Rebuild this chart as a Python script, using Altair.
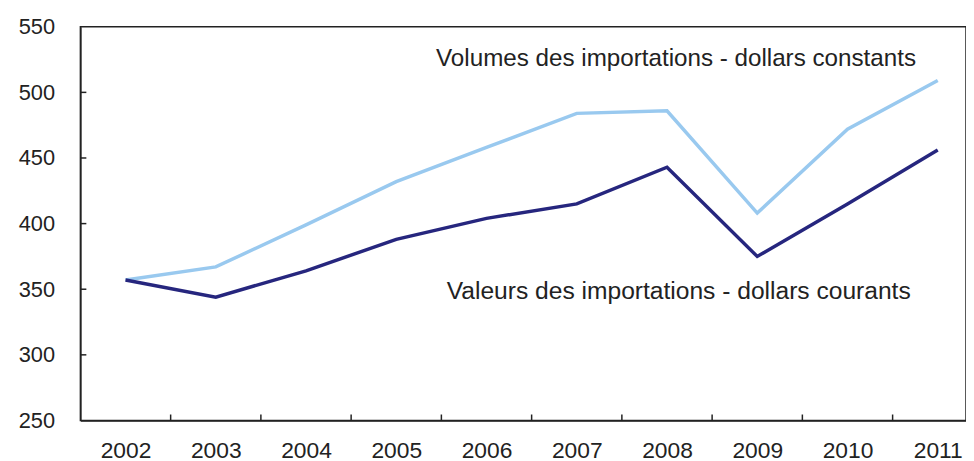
import altair as alt
import pandas as pd

years = [2002, 2003, 2004, 2005, 2006, 2007, 2008, 2009, 2010, 2011]
volumes = [357, 367, 399, 432, 458, 484, 486, 408, 472, 509]
valeurs = [357, 344, 364, 388, 404, 415, 443, 375, 415, 456]
series_names = ["Volumes des importations - dollars constants",
                "Valeurs des importations - dollars courants"]
series_colors = ["#99c9ef", "#26267e"]
y_ticks = [250, 300, 350, 400, 450, 500, 550]
x_tick_marks = [2002.5, 2003.5, 2004.5, 2005.5, 2006.5, 2007.5, 2008.5, 2009.5, 2010.5]
y_tick_marks = [300, 350, 400, 450, 500]

FONT = "Liberation Sans"
W, H = 893, 397

df = pd.DataFrame({
    "year": years * 2,
    "value": volumes + valeurs,
    "series": [series_names[0]] * len(years) + [series_names[1]] * len(years),
})

xscale = alt.Scale(domain=[2001.5, 2011.5], range=[0, 910], nice=False, zero=False)
yscale = alt.Scale(domain=[250, 550], nice=False, zero=False)

lines = alt.Chart(df).mark_line(strokeWidth=3.5).encode(
    x=alt.X("year:Q", scale=xscale,
            axis=alt.Axis(values=years, format="d", title=None, ticks=False,
                          labelPadding=19, labelFontSize=23, grid=False)),
    y=alt.Y("value:Q", scale=yscale,
            axis=alt.Axis(values=y_ticks, title=None, ticks=False,
                          labelPadding=26, labelFontSize=22, grid=False)),
    color=alt.Color("series:N", scale=alt.Scale(domain=series_names, range=series_colors),
                    legend=None),
    detail="series:N",
)

xt = alt.Chart(pd.DataFrame({"t": x_tick_marks})).mark_rule(color="#222", strokeWidth=1.5).encode(
    x=alt.X("t:Q", scale=xscale),
    y=alt.value(H - 6),
    y2=alt.value(H),
)
yt = alt.Chart(pd.DataFrame({"t": y_tick_marks})).mark_rule(color="#222", strokeWidth=1.5).encode(
    y=alt.Y("t:Q", scale=yscale),
    x=alt.value(0),
    x2=alt.value(6),
)

ann_df = pd.DataFrame({"label": series_names})
ann1 = alt.Chart(ann_df.iloc[[0]]).mark_text(
    font=FONT, fontSize=24.4, color="#222", align="center", baseline="middle"
).encode(x=alt.datum(2008.1), y=alt.datum(525.5), text="label:N")
ann2 = alt.Chart(ann_df.iloc[[1]]).mark_text(
    font=FONT, fontSize=24.8, color="#222", align="center", baseline="middle"
).encode(x=alt.datum(2008.13), y=alt.datum(347.5), text="label:N")

chart = alt.layer(lines, xt, yt, ann1, ann2).properties(
    width=W, height=H,
    autosize=alt.AutoSizeParams(type="none"),
    padding={"left": 73, "top": 17, "right": 0, "bottom": 42},
).configure_view(
    stroke="#222", strokeWidth=1.5
).configure_axis(
    labelFont=FONT, labelColor="#222", domainColor="#222", domainWidth=1.5,
)

chart.save("out.html", embed_options={"renderer": "svg", "actions": False})
